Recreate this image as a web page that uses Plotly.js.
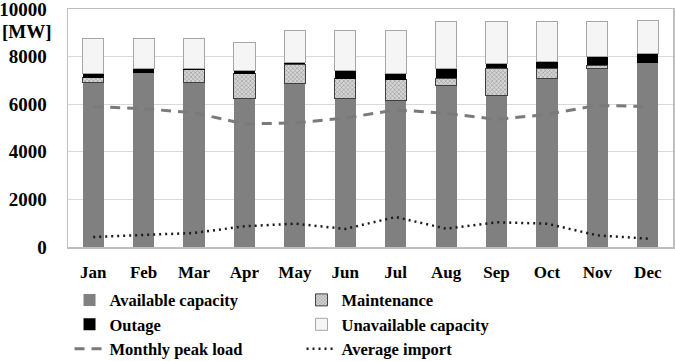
<!DOCTYPE html>
<html><head><meta charset="utf-8">
<script src="https://cdn.plot.ly/plotly-3.0.1.min.js"></script>
<style>html,body{margin:0;padding:0;background:#fff}#chart{width:675px;height:361px}</style>
</head><body><div id="chart"></div>
<script>
const months = ["Jan","Feb","Mar","Apr","May","Jun","Jul","Aug","Sep","Oct","Nov","Dec"];
const availableCapacity = [6920,7330,6920,6250,6880,6250,6160,6770,6370,7100,7510,7750];
const maintenance       = [200,0,530,1040,800,830,870,330,1140,410,130,0];
const outage            = [170,170,60,110,85,330,260,400,200,280,360,390];
const unavailable       = [1490,1280,1270,1180,1335,1690,1810,1980,1770,1690,1480,1380];
const monthlyPeakLoad   = [5900,5810,5640,5170,5210,5420,5760,5620,5360,5570,5950,5900];
const averageImport     = [420,490,590,870,980,760,1260,770,1040,980,490,350];
const yTicks = [0,2000,4000,6000,8000,10000];

const F = "Liberation Serif";
const traces = [
  {type:"bar", x:months, y:availableCapacity, name:"Available capacity",
   marker:{color:"#808080", line:{width:0}}},
  {type:"bar", x:months, y:maintenance, name:"Maintenance",
   marker:{color:"#c8c8c8", line:{color:"#404040", width:1},
           pattern:{shape:"x", fgcolor:"#8a8a8a", bgcolor:"#d6d6d6", size:3, solidity:0.3}}},
  {type:"bar", x:months, y:outage, name:"Outage",
   marker:{color:"#000000", line:{width:0}}},
  {type:"bar", x:months, y:unavailable, name:"Unavailable capacity",
   marker:{color:"#f5f5f5", line:{color:"#a6a6a6", width:1}}},
  {type:"scatter", mode:"lines", x:months, y:monthlyPeakLoad, name:"Monthly peak load",
   line:{color:"#7a7a7a", width:3, dash:"10px,7px"}},
  {type:"scatter", mode:"lines", x:months, y:averageImport, name:"Average import",
   line:{color:"#1a1a1a", width:2.5, dash:"2px,4px"}}
];
const layout = {
  width:675, height:361,
  margin:{l:68, r:2, t:9, b:114, autoexpand:false},
  paper_bgcolor:"#fff", plot_bgcolor:"#fff",
  barmode:"stack", bargap:0.58,
  font:{family:F, color:"#000", size:16, weight:"bold"},
  showlegend:true,
  legend:{orientation:"h", xref:"container", x:0.103, xanchor:"left",
          yref:"container", y:0.217, yanchor:"top",
          entrywidth:187, entrywidthmode:"pixels", traceorder:"normal",
          font:{family:F, size:16.5, color:"#000", weight:"bold"}, bgcolor:"rgba(0,0,0,0)"},
  xaxis:{tickfont:{family:F, size:17, weight:"bold"}, showline:true, mirror:true,
         linecolor:"#bfbfbf", linewidth:1.5, ticks:"", ticklabelstandoff:9, showgrid:false},
  yaxis:{range:[0,10000], tickvals:yTicks, ticktext:yTicks.map(String),
         tickfont:{family:F, size:19, weight:"bold"}, showline:true, mirror:true,
         linecolor:"#bfbfbf", linewidth:1.5, gridcolor:"#d9d9d9", gridwidth:1,
         ticks:"", ticklabelstandoff:16, zeroline:false, ticklabeloverflow:"allow"},
  annotations:[{text:"[MW]", xref:"paper", yref:"paper", x:-0.112, xanchor:"left",
                y:0.905, yanchor:"middle", showarrow:false,
                font:{family:F, size:19, weight:"bold", color:"#000"}}]
};
Plotly.newPlot("chart", traces, layout, {displayModeBar:false, staticPlot:true});
</script></body></html>
